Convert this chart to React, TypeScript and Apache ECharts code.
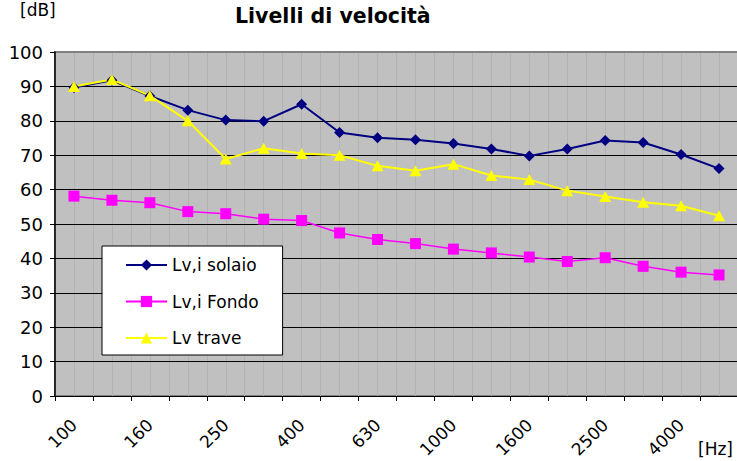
import React, { useEffect, useRef } from "react";
import * as echarts from "echarts";

const frequencies = [
  "100", "125", "160", "200", "250", "315", "400", "500", "630",
  "800", "1000", "1250", "1600", "2000", "2500", "3150", "4000", "5000",
];
const solaio = [89.7, 91.8, 87.2, 83.1, 80.2, 79.9, 84.8, 76.6, 75.1, 74.5, 73.4, 71.8, 69.8, 71.8, 74.3, 73.7, 70.2, 66.1];
const fondo = [58.1, 56.9, 56.2, 53.6, 53.0, 51.4, 51.0, 47.4, 45.5, 44.3, 42.7, 41.6, 40.4, 39.1, 40.2, 37.7, 36.0, 35.2];
const trave = [90.0, 92.0, 87.3, 80.0, 68.9, 72.0, 70.5, 70.0, 66.9, 65.5, 67.4, 64.1, 62.9, 59.7, 58.0, 56.3, 55.3, 52.4];
const seriesNames = ["Lv,i solaio", "Lv,i Fondo", "Lv trave"];
const titleText = "Livelli di velocità";
const yUnit = "[dB]";
const xUnit = "[Hz]";

const FONT = "DejaVu Sans";

export default function App() {
  const ref = useRef<HTMLDivElement>(null);
  useEffect(() => {
    if (!ref.current) return;
    const chart = echarts.init(ref.current, null, { renderer: "svg" });
    const gridColors = ["#000", "#000", "#000", "#000", "#000", "#000", "#000", "#000", "#000", "#000", "#808080"];
    chart.setOption({
      animation: false,
      backgroundColor: "#ffffff",
      title: [
        {
          text: titleText,
          left: 235,
          top: 5,
          textStyle: { fontFamily: FONT, fontSize: 20.5, fontWeight: "bold", color: "#000" },
          padding: 0,
        },
        {
          text: yUnit,
          left: 20,
          top: 1,
          textStyle: { fontFamily: FONT, fontSize: 17, fontWeight: "normal", color: "#000" },
          padding: 0,
        },
        {
          text: xUnit,
          left: 698,
          top: 440,
          textStyle: { fontFamily: FONT, fontSize: 17, fontWeight: "normal", color: "#000" },
          padding: 0,
        },
      ],
      grid: {
        left: 55,
        top: 52,
        width: 683,
        height: 344,
        show: true,
        backgroundColor: "#c0c0c0",
        borderColor: "#808080",
        borderWidth: 2,
        containLabel: false,
        outerBoundsMode: "none",
      },
      legend: {
        orient: "vertical",
        left: 102,
        top: 246,
        data: seriesNames,
        backgroundColor: "#ffffff",
        borderColor: "#000000",
        borderWidth: 1,
        borderRadius: 0,
        padding: [9, 24, 7, 23],
        itemWidth: 41,
        itemHeight: 14,
        itemGap: 16.5,
        textStyle: { fontFamily: FONT, fontSize: 17, color: "#000", lineHeight: 20 },
      },
      xAxis: [
        {
          type: "category",
          data: frequencies,
          boundaryGap: true,
          z: 4,
          axisLine: { show: true, lineStyle: { color: "#000", width: 1 } },
          axisTick: { show: true, interval: 0, length: 5, lineStyle: { color: "#000" } },
          axisLabel: {
            interval: 1,
            rotate: 45,
            margin: 26,
            fontFamily: FONT,
            fontSize: 17,
            color: "#000",
          },
          splitLine: { show: false },
        },
        {
          type: "value",
          min: 0,
          max: 36,
          interval: 1,
          position: "top",
          z: 1,
          axisLine: { show: false },
          axisTick: { show: false },
          axisLabel: { show: false },
          splitLine: { show: true, lineStyle: { color: "#b2b2b2", width: 1 } },
        },
      ],
      yAxis: {
        type: "value",
        min: 0,
        max: 100,
        interval: 10,
        z: 2,
        axisLine: { show: true, lineStyle: { color: "#000", width: 1.5 } },
        axisTick: { show: true, length: 5, lineStyle: { color: "#000" } },
        axisLabel: { margin: 12, fontFamily: FONT, fontSize: 18, color: "#000" },
        splitLine: { show: true, lineStyle: { color: gridColors, width: 1 } },
      },
      series: [
        {
          name: seriesNames[0],
          type: "line",
          data: solaio,
          z: 5,
          symbol: "diamond",
          symbolSize: 11,
          lineStyle: { color: "#000080", width: 2 },
          itemStyle: { color: "#000080" },
        },
        {
          name: seriesNames[1],
          type: "line",
          data: fondo,
          z: 5,
          symbol: "rect",
          symbolSize: 11,
          lineStyle: { color: "#ff00ff", width: 1.5 },
          itemStyle: { color: "#ff00ff" },
        },
        {
          name: seriesNames[2],
          type: "line",
          data: trave,
          z: 5,
          symbol: "triangle",
          symbolSize: [12, 11],
          lineStyle: { color: "#ffff00", width: 2 },
          itemStyle: { color: "#ffff00" },
        },
      ],
    });
    return () => chart.dispose();
  }, []);
  return (
    <div
      ref={ref}
      style={{ position: "fixed", left: 0, top: 0, width: 737, height: 461 }}
    />
  );
}
